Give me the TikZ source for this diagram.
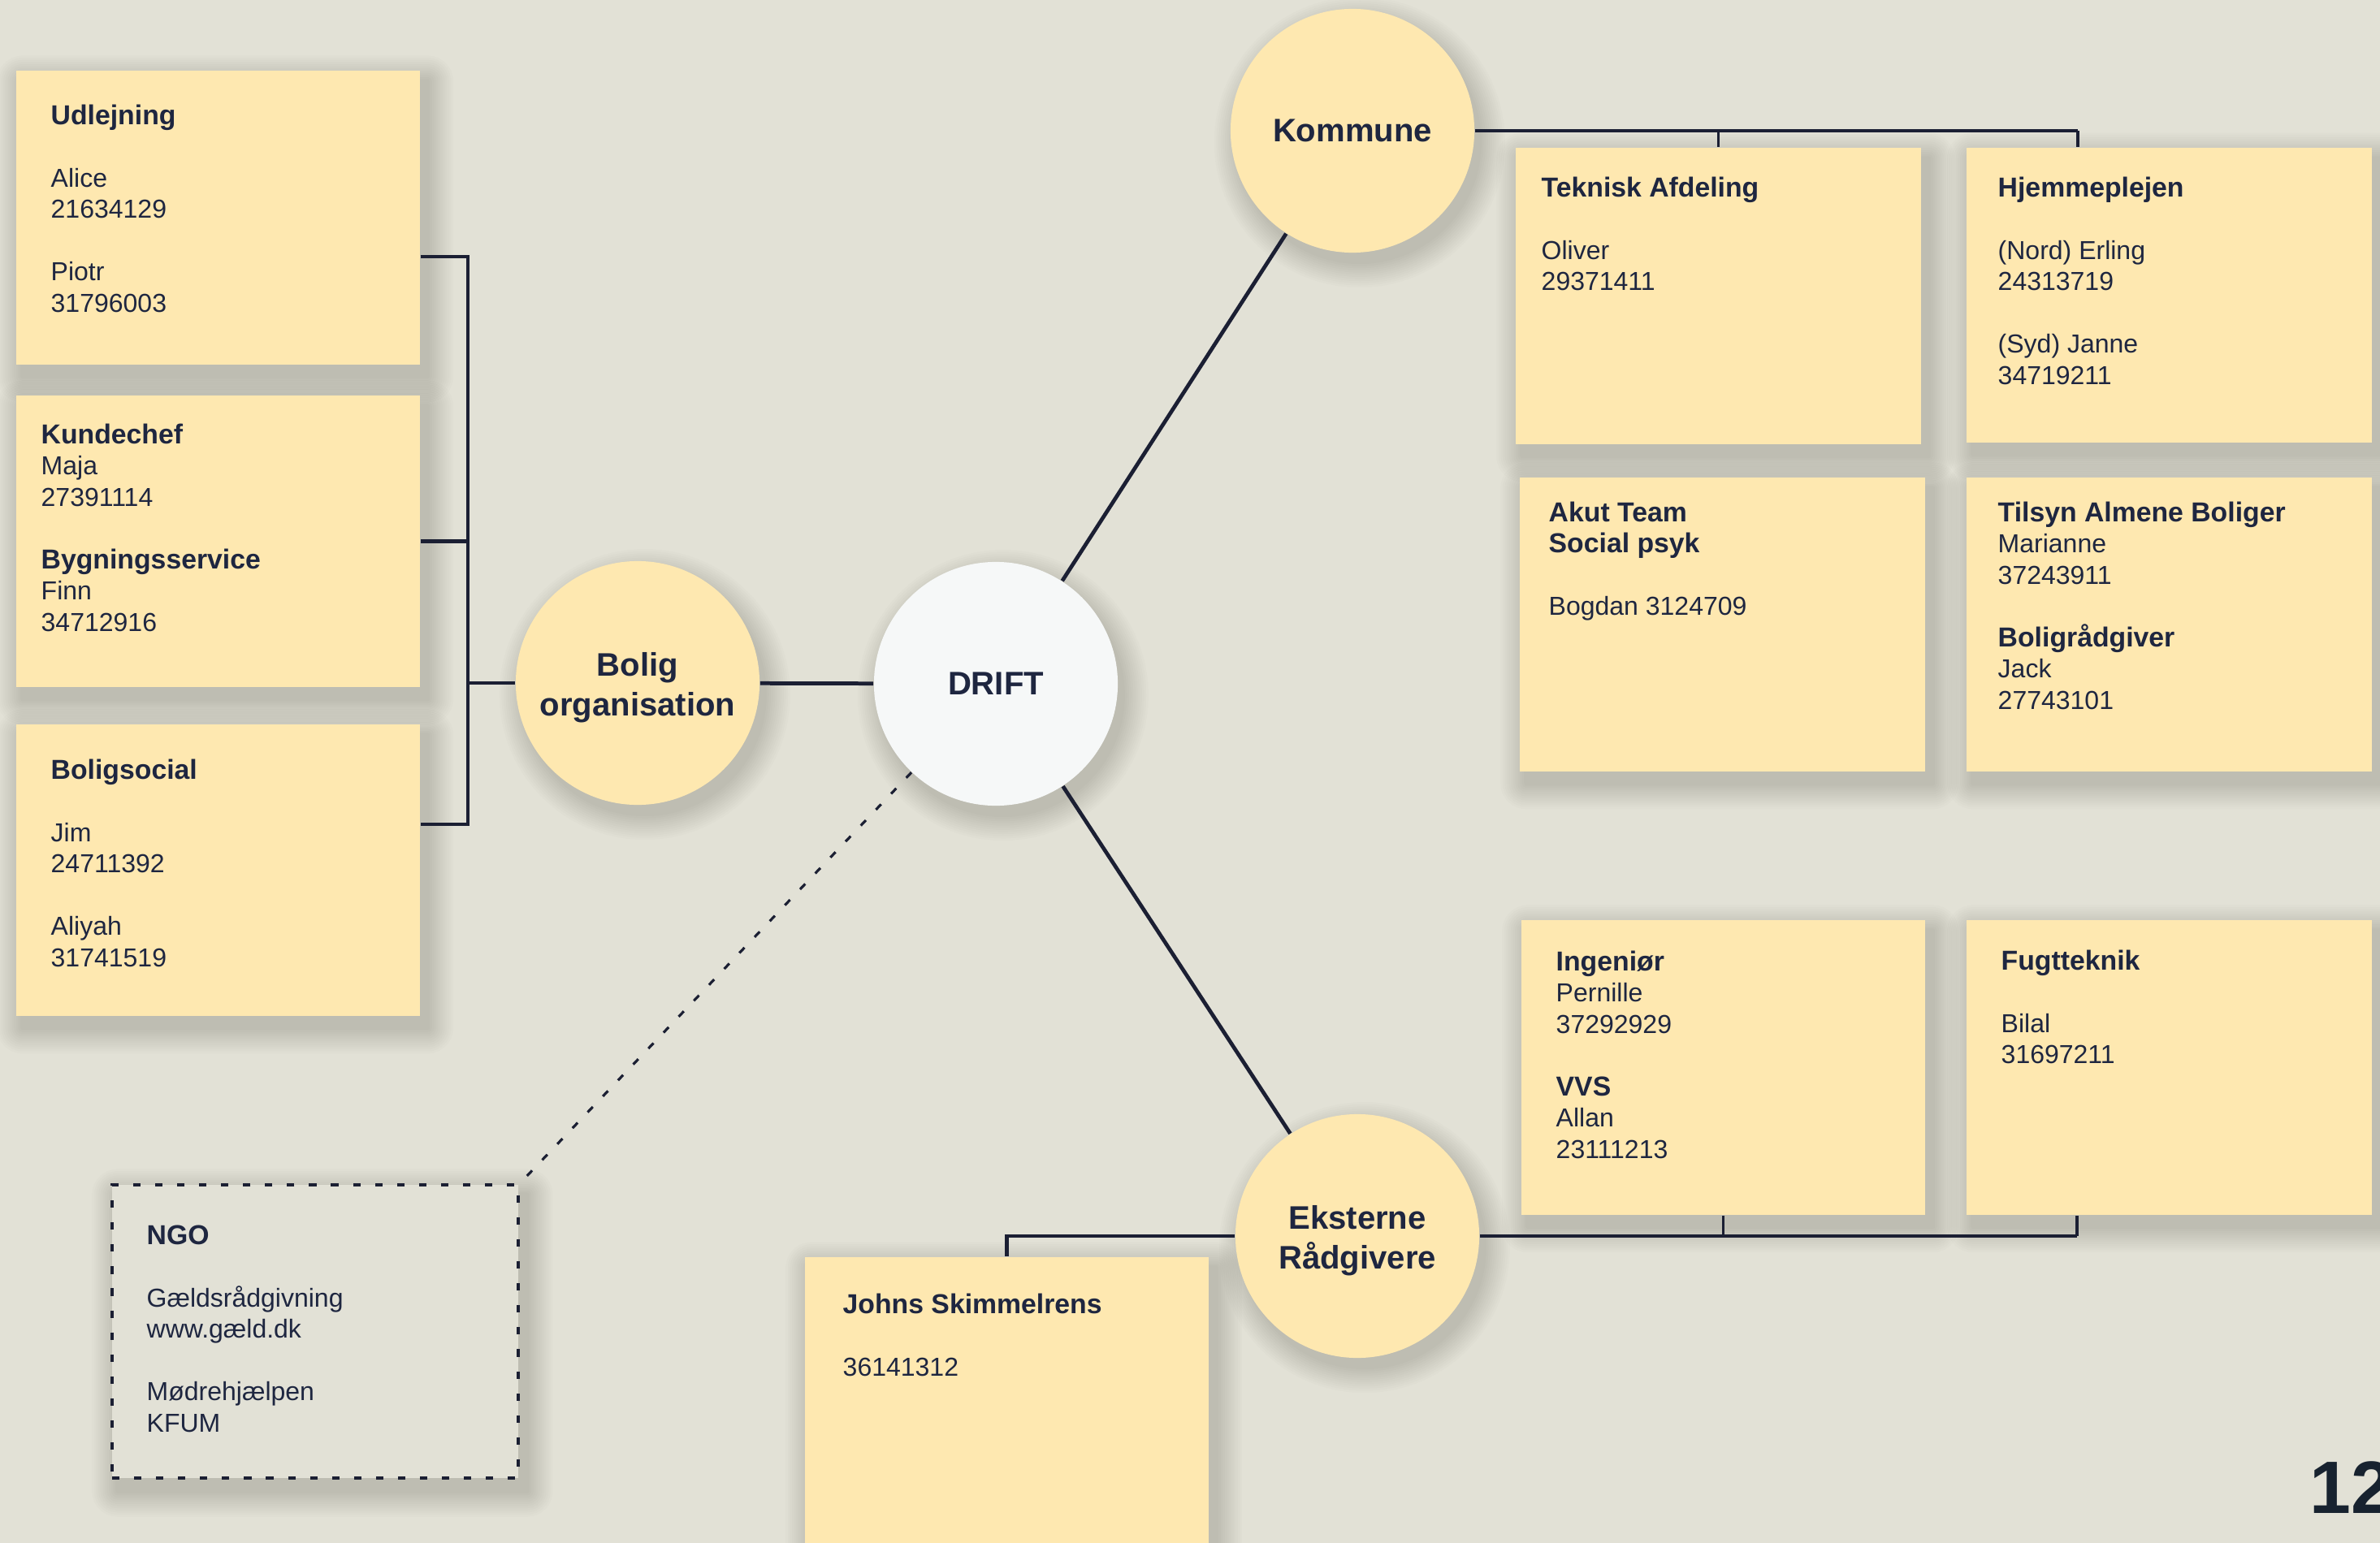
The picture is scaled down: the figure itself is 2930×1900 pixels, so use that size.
\documentclass[tikz,border=0pt]{standalone}
\usepackage{fontspec}
\setmainfont{Liberation Sans}
\definecolor{bgc}{HTML}{E2E1D6}
\definecolor{boxc}{HTML}{FEE8B0}
\definecolor{txtc}{HTML}{1E2640}
\definecolor{linec}{HTML}{1B1F33}
\definecolor{driftc}{HTML}{F6F8F8}
\definecolor{numc}{HTML}{17222F}
\pgfdeclarelayer{bgl}
\pgfdeclarelayer{shadowl}
\pgfsetlayers{bgl,shadowl,main}
\newcommand\mkln[1]{\hbox{#1}}
\newcommand\mkt[1]{\hbox{\fontsize{9.6}{10.95}\selectfont\bfseries #1}}
\newcommand\rshadow[1]{%
  \foreach \k in {1,...,12}{%
    \pgfmathsetmacro\ee{\k*0.75}%
    \fill[black, opacity=0.011, rounded corners=\ee pt]
      ([xshift=2.5pt-\ee pt, yshift=-4pt+\ee pt]#1.north west) rectangle
      ([xshift=2.5pt+\ee pt, yshift=-4pt-\ee pt]#1.south east);}}
\newcommand\cshadow[1]{%
  \foreach \k in {1,...,12}{%
    \pgfmathsetmacro\ee{\k*0.75}%
    \fill[black, opacity=0.011]
      ([xshift=2.5pt, yshift=-4pt]#1.center) circle[radius=1.5cm+\ee pt-0.75pt];}}
\tikzset{
  sticky/.style={rectangle, fill=boxc, draw=none, inner sep=0pt, anchor=north west},
  ngobox/.style={rectangle, fill=bgc, draw=linec, line width=1.1pt, dash pattern=on 2.6pt off 5.1pt,
    inner sep=0pt, anchor=north west},
  bubble/.style={circle, fill=boxc, draw=none, inner sep=0pt, minimum size=3cm},
  ctext/.style={inner sep=0pt, align=center, text=txtc, font=\fontsize{11.4}{13.8}\selectfont\bfseries},
  txt/.style={anchor=base west, inner sep=0pt, text=txtc, font=\fontsize{9.1}{10.95}\selectfont},
  conn/.style={draw=linec, line width=1.35pt},
  stub/.style={draw=linec, line width=1.05pt},
  dconn/.style={draw=linec, line width=0.9pt, dash pattern=on 2.6pt off 5.1pt},
}
\begin{document}
\begin{tikzpicture}[x=0.01cm, y=-0.01cm]
\useasboundingbox (0,0) rectangle (2930,1900);
\clip (0,0) rectangle (2930,1900);
\begin{pgfonlayer}{bgl}
\fill[bgc] (0,0) rectangle (2930,1900);
\end{pgfonlayer}

% left boxes
\node[sticky, minimum width=4.97cm, minimum height=3.62cm] (udl) at (19,86) {};
\node[sticky, minimum width=4.97cm, minimum height=3.59cm] (kun) at (19,486) {};
\node[sticky, minimum width=4.97cm, minimum height=3.59cm] (bso) at (19,891) {};
% right boxes
\node[sticky, minimum width=4.99cm, minimum height=3.65cm] (tek) at (1865,181) {};
\node[sticky, minimum width=4.99cm, minimum height=3.63cm] (hje) at (2420,181) {};
\node[sticky, minimum width=4.99cm, minimum height=3.62cm] (aku) at (1870,587) {};
\node[sticky, minimum width=4.99cm, minimum height=3.62cm] (til) at (2420,587) {};
\node[sticky, minimum width=4.97cm, minimum height=3.63cm] (ing) at (1872,1132) {};
\node[sticky, minimum width=4.99cm, minimum height=3.63cm] (fug) at (2420,1132) {};
\node[sticky, minimum width=4.97cm, minimum height=3.9cm] (joh) at (990,1547) {};
\node[ngobox, minimum width=5.0cm, minimum height=3.61cm] (ngo) at (136,1457) {};

% circles
\node[bubble] (bol) at (785,841) {};
\node[bubble, fill=driftc] (drift) at (1226,842) {};
\node[bubble] (kom) at (1665,161) {};
\node[bubble] (eks) at (1671,1522) {};
\node[ctext] (bolT) at ([yshift=-1.6pt]bol.center) {Bolig\\organisation};
\node[ctext] (driftT) at (drift.center) {DRIFT};
\node[ctext] (komT) at (kom.center) {Kommune};
\node[ctext] (eksT) at ([yshift=-1.6pt]eks.center) {Eksterne\\Rådgivere};

% shadows
\begin{pgfonlayer}{shadowl}
\rshadow{udl}\rshadow{kun}\rshadow{bso}
\rshadow{tek}\rshadow{hje}\rshadow{aku}\rshadow{til}
\rshadow{ing}\rshadow{fug}\rshadow{joh}\rshadow{ngo}
\cshadow{bol}\cshadow{drift}\cshadow{kom}\cshadow{eks}
\end{pgfonlayer}

% texts
\node[txt] (udlT) at (62,153) {\vtop{\mkt{Udlejning}\mkln{}\mkln{Alice}\mkln{21634129}\mkln{}\mkln{Piotr}\mkln{31796003}}};
\node[txt] (kunT) at (50,546) {\vtop{\mkt{Kundechef}\mkln{Maja}\mkln{27391114}\mkln{}\mkt{Bygningsservice}\mkln{Finn}\mkln{34712916}}};
\node[txt] (bsoT) at (62,959) {\vtop{\mkt{Boligsocial}\mkln{}\mkln{Jim}\mkln{24711392}\mkln{}\mkln{Aliyah}\mkln{31741519}}};
\node[txt] (tekT) at (1897,242) {\vtop{\mkt{Teknisk Afdeling}\mkln{}\mkln{Oliver}\mkln{29371411}}};
\node[txt] (hjeT) at (2459,242) {\vtop{\mkt{Hjemmeplejen}\mkln{}\mkln{(Nord) Erling}\mkln{24313719}\mkln{}\mkln{(Syd) Janne}\mkln{34719211}}};
\node[txt] (akuT) at (1906,642) {\vtop{\mkt{Akut Team}\mkt{Social psyk}\mkln{}\mkln{Bogdan 3124709}}};
\node[txt] (tilT) at (2459,642) {\vtop{\mkt{Tilsyn Almene Boliger}\mkln{Marianne}\mkln{37243911}\mkln{}\mkt{Boligrådgiver}\mkln{Jack}\mkln{27743101}}};
\node[txt] (ingT) at (1915,1195) {\vtop{\mkt{Ingeniør}\mkln{Pernille}\mkln{37292929}\mkln{}\mkt{VVS}\mkln{Allan}\mkln{23111213}}};
\node[txt] (fugT) at (2463,1194) {\vtop{\mkt{Fugtteknik}\mkln{}\mkln{Bilal}\mkln{31697211}}};
\node[txt] (johT) at (1037,1617) {\vtop{\mkt{Johns Skimmelrens}\mkln{}\mkln{36141312}}};
\node[txt] (ngoT) at (180,1532) {\vtop{\mkt{NGO}\mkln{}\mkln{Gældsrådgivning}\mkln{www.gæld.dk}\mkln{}\mkln{Mødrehjælpen}\mkln{KFUM}}};

\node[anchor=base west, inner sep=0pt, text=numc, font=\fontsize{26}{30}\selectfont\bfseries] (pg) at (2843,1863) {12};

% connectors
\draw[conn] (bol) -- (drift);
\draw[conn] (drift) -- (kom);
\draw[conn] (drift) -- (eks);
\draw[dconn] (drift) -- (ngo.north east);

\coordinate (lt) at (576,316);
\coordinate (lb) at (576,1015);
\draw[conn] (udl.east |- lt) -- (lt) -- (lb) -- (bso.east |- lb);
\draw[conn] (kun.east) -- (kun.east -| lt);
\draw[conn] (bol.west) -- (bol.west -| lt);

\coordinate (kx) at (2558,0);
\draw[conn] (kom.east) -- (kom.east -| kx);
\draw[stub] (kom.east -| kx) -- (hje.north -| kx);
\draw[stub] (tek.north) -- (tek.north |- kom.east);

\coordinate (ex) at (2557,0);
\draw[conn] (eks.east) -- (eks.east -| ex);
\draw[stub] (eks.east -| ex) -- (fug.south -| ex);
\draw[stub] (ing.south) -- (ing.south |- eks.east);
\draw[conn] (eks.west) -| (joh.north);
\end{tikzpicture}
\end{document}
